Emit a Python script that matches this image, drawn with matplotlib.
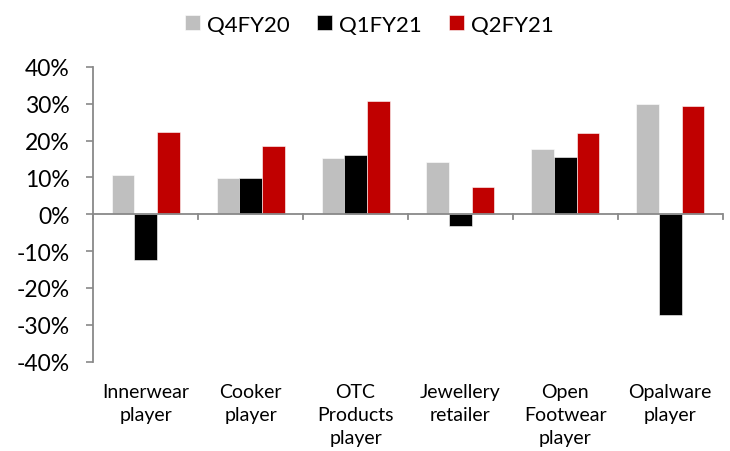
import matplotlib
matplotlib.use("Agg")
import matplotlib.pyplot as plt
import numpy as np
from matplotlib.ticker import FuncFormatter

plt.rcParams['font.family'] = ['Lato', 'DejaVu Sans']

categories = ["Innerwear\nplayer", "Cooker\nplayer", "OTC\nProducts\nplayer",
              "Jewellery\nretailer", "Open\nFootwear\nplayer", "Opalware\nplayer"]
series_names = ["Q4FY20", "Q1FY21", "Q2FY21"]
q4fy20 = [10.6, 9.9, 15.2, 14.1, 17.7, 30.0]
q1fy21 = [-12.3, 9.7, 16.2, -3.1, 15.6, -27.4]
q2fy21 = [22.2, 18.6, 30.7, 7.3, 22.0, 29.3]
colors = ["#BFBFBF", "#000000", "#C00000"]
yticks = [-40, -30, -20, -10, 0, 10, 20, 30, 40]

fig = plt.figure(figsize=(7.3, 4.52), dpi=100)
ax = fig.add_axes([0.1278, 0.1976, 0.8622, 0.6524])

x = np.arange(len(categories))
w = 0.216
for i, (vals, name, c) in enumerate(zip([q4fy20, q1fy21, q2fy21], series_names, colors)):
    ax.bar(x + (i - 1) * w, vals, width=w, color=c, label=name, zorder=2,
           edgecolor="white", linewidth=0.4)

ax.set_xlim(-0.5, len(categories) - 0.5)
ax.set_ylim(-40, 40)
ax.set_yticks(yticks)
ax.yaxis.set_major_formatter(FuncFormatter(lambda v, p: f"{v:.0f}%"))
ax.tick_params(axis='y', labelsize=16.5, direction='out', length=5, width=1.2,
               color="#898989", pad=12)

for s in ["top", "right", "bottom"]:
    ax.spines[s].set_visible(False)
ax.spines["left"].set_color("#898989")
ax.spines["left"].set_linewidth(1.3)
ax.axhline(0, color="#898989", linewidth=1.3, zorder=3)

ax.set_xticks(x)
ax.set_xticklabels(categories, fontsize=14, linespacing=1.45, va="top")
ax.tick_params(axis='x', length=0, pad=15)
for b in np.arange(-0.5, len(categories), 1.0):
    ax.plot([b, b], [0, -1.4], color="#898989", linewidth=1.3, zorder=3, clip_on=False)

fig.legend(loc="upper center", bbox_to_anchor=(0.506, 1.0), ncol=3, frameon=False,
           fontsize=16, handlelength=0.68, handleheight=0.68, handletextpad=0.33,
           columnspacing=1.2, borderaxespad=0.3)

fig.savefig("out.png", dpi=100)
